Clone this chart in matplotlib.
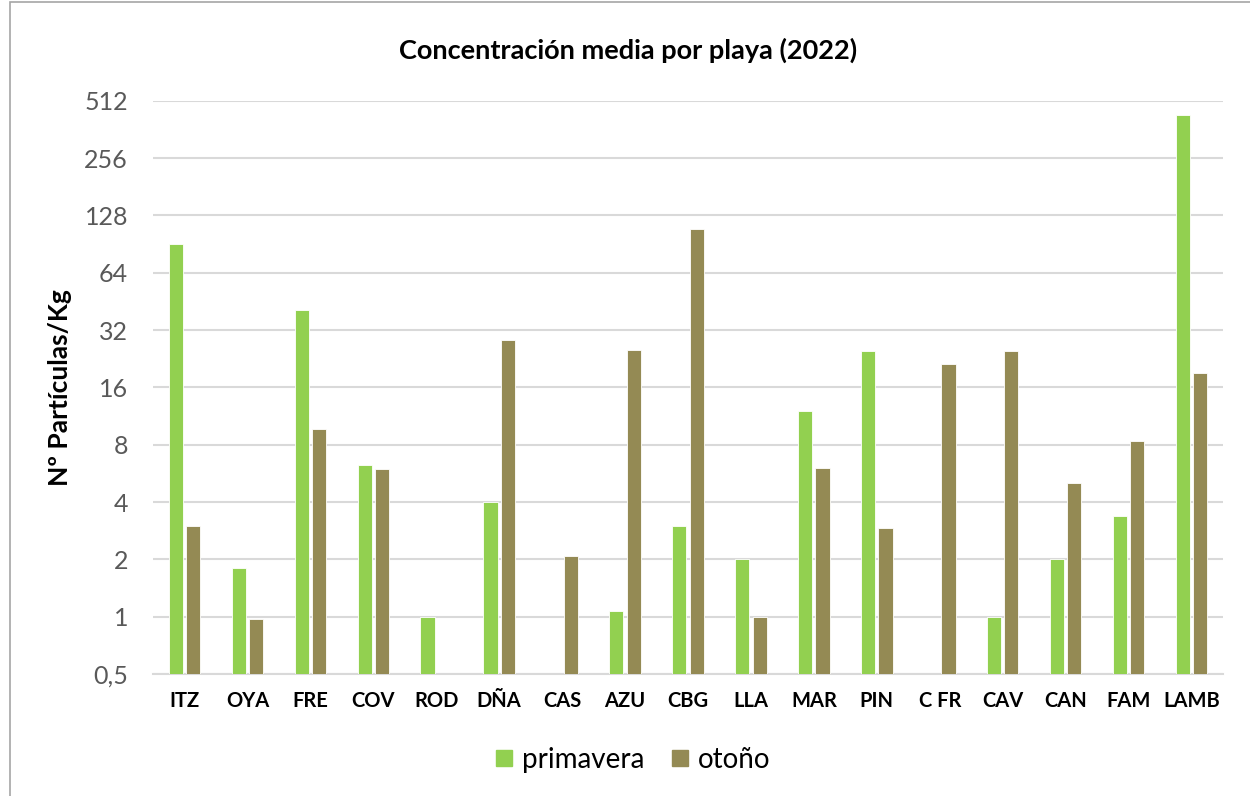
import numpy as np
import matplotlib
matplotlib.use("Agg")
import matplotlib.pyplot as plt
import matplotlib.ticker as mticker
from matplotlib.patches import Rectangle
from matplotlib.lines import Line2D

plt.rcParams['font.family'] = ['Lato', 'DejaVu Sans']

playas = ["ITZ", "OYA", "FRE", "COV", "ROD", "DÑA", "CAS", "AZU", "CBG",
          "LLA", "MAR", "PIN", "C FR", "CAV", "CAN", "FAM", "LAMB"]
# np.nan = sin dato
primavera = [90.5, 1.81, 41, 6.26, 1.0, 4.0, np.nan, 1.07, 3.0,
             2.0, 12.0, 24.8, np.nan, 1.0, 2.0, 3.39, 430]
otono = [3.0, 0.97, 9.7, 5.96, np.nan, 28.4, 2.08, 25.0, 108,
         1.0, 6.0, 2.91, 21.3, 24.8, 5.04, 8.34, 19.1]
yticks = [0.5, 1, 2, 4, 8, 16, 32, 64, 128, 256, 512]

c_prim = "#92D050"
c_oto = "#948A54"

fig = plt.figure(figsize=(12.5, 7.96), dpi=100)
ax = fig.add_axes([153/1250, 1 - 674/796, (1223-153)/1250, (674-100.7)/796])

x = np.arange(len(playas))
w = 0.225
ax.bar(x - 0.138, primavera, w, color=c_prim, edgecolor="white",
       linewidth=0.6, label="primavera", zorder=3)
ax.bar(x + 0.138, otono, w, color=c_oto, edgecolor="white",
       linewidth=0.6, label="otoño", zorder=3)

ax.set_yscale("log", base=2)
ax.set_ylim(0.5, 512)
ax.set_xlim(-0.5, len(playas) - 0.5)
ax.set_yticks(yticks)
ax.yaxis.set_major_formatter(mticker.FuncFormatter(
    lambda v, p: ("%g" % v).replace(".", ",")))
ax.yaxis.set_minor_locator(mticker.NullLocator())
ax.tick_params(axis="y", length=0, labelsize=18, labelcolor="#595959", pad=18)
ax.set_xticks(x)
ax.set_xticklabels(playas, fontweight="bold", fontsize=14.5)
ax.tick_params(axis="x", length=0, pad=12)
ax.grid(axis="y", color="#D9D9D9", linewidth=1.5, zorder=0)
for s in ["top", "right", "left"]:
    ax.spines[s].set_visible(False)
ax.spines["bottom"].set_color("#D9D9D9")
ax.spines["bottom"].set_linewidth(1.5)

ax.set_ylabel("Nº Partículas/Kg", fontweight="bold", fontsize=19)
ax.yaxis.set_label_coords(-0.076, 0.5)

fig.text(628/1250, 1 - 50/796, "Concentración media por playa (2022)",
         ha="center", va="center", fontweight="bold", fontsize=19.5)

handles = [Line2D([], [], marker="s", linestyle="", markersize=12,
                  markerfacecolor=c, markeredgecolor=c) for c in (c_prim, c_oto)]
fig.legend(handles, ["primavera", "otoño"], loc="center",
           bbox_to_anchor=(633/1250, 1 - 760/796), ncol=2,
           frameon=False, fontsize=20, handlelength=0.6,
           handletextpad=0.35, columnspacing=1.0)

fig.patches.append(Rectangle((10/1250, -0.1), 1.2, 1 - 2/796 + 0.1,
                             transform=fig.transFigure, fill=False,
                             edgecolor="#A6A6A6", linewidth=1.2))

fig.savefig("out.png", dpi=100)
